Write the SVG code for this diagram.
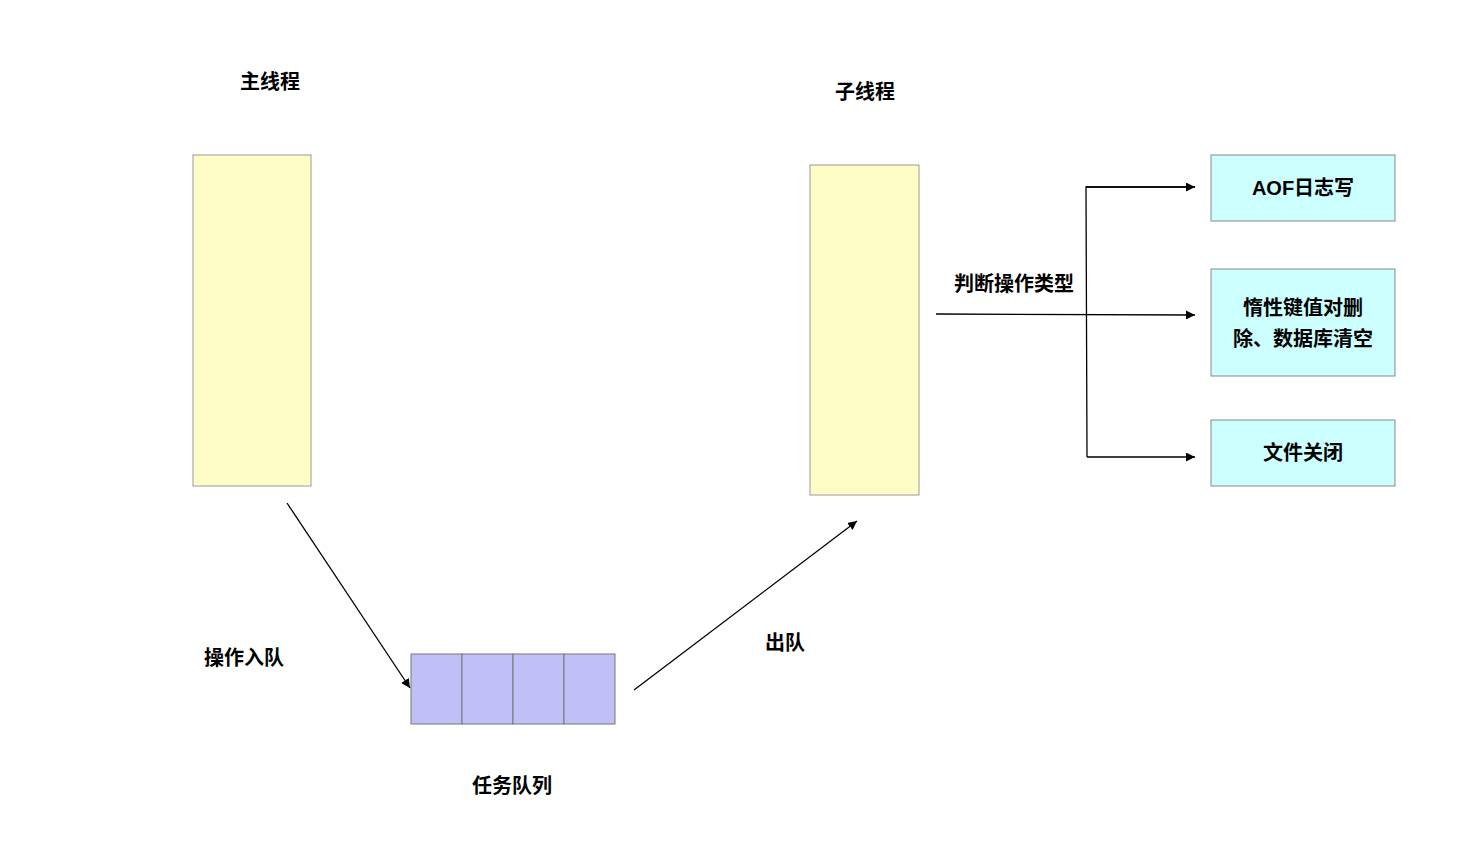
<svg xmlns="http://www.w3.org/2000/svg" width="1480" height="842" viewBox="0 0 1480 842">
<style>
text{font-family:"Liberation Sans","Noto Sans CJK SC",sans-serif;font-weight:bold;font-size:20px;fill:#000;text-anchor:middle}
.th{fill:#FFFDC6;stroke:#999;stroke-width:1}
.q{fill:#C0C0F7;stroke:#777;stroke-width:1}
.b{fill:#CCFFFF;stroke:#888;stroke-width:1}
.c{stroke:#000;stroke-width:1.3;fill:none}
</style>
<defs><marker id="a" viewBox="0 0 10 10" refX="10" refY="5" markerWidth="9" markerHeight="9" markerUnits="userSpaceOnUse" orient="auto"><path d="M0,0L10,5L0,10z" fill="#000"/></marker></defs>
<rect width="1480" height="842" fill="#fff"/>
<g id="main"><rect class="th" x="193" y="155" width="118" height="331"/><text x="270" y="89">主线程</text></g>
<g id="sub"><rect class="th" x="810" y="165" width="109" height="330"/><text x="865" y="99">子线程</text></g>
<g id="queue"><rect class="q" x="411" y="654" width="51" height="70"/><rect class="q" x="462" y="654" width="51" height="70"/><rect class="q" x="513" y="654" width="51" height="70"/><rect class="q" x="564" y="654" width="51" height="70"/><text x="512" y="793">任务队列</text></g>
<g id="aof"><rect class="b" x="1211" y="155" width="184" height="66"/><text x="1303" y="195">AOF日志写</text></g>
<g id="del"><rect class="b" x="1211" y="269" width="184" height="107"/><text x="1303" y="315">惰性键值对删</text><text x="1303" y="346">除、数据库清空</text></g>
<g id="close"><rect class="b" x="1211" y="420" width="184" height="66"/><text x="1303" y="460">文件关闭</text></g>
<g id="connectors">
<line class="c" x1="287" y1="503" x2="410" y2="688" marker-end="url(#a)"/>
<line class="c" x1="634" y1="690" x2="857" y2="521" marker-end="url(#a)"/>
<line class="c" x1="936" y1="314" x2="1195" y2="315" marker-end="url(#a)"/>
<polyline class="c" points="1195,187 1086,187 1087,457"/>
<line class="c" x1="1086" y1="187" x2="1195" y2="187" marker-end="url(#a)"/>
<line class="c" x1="1087" y1="457" x2="1195" y2="457" marker-end="url(#a)"/>
<text x="244" y="665">操作入队</text>
<text x="785" y="650">出队</text>
<text x="1014" y="291">判断操作类型</text>
</g>
</svg>
